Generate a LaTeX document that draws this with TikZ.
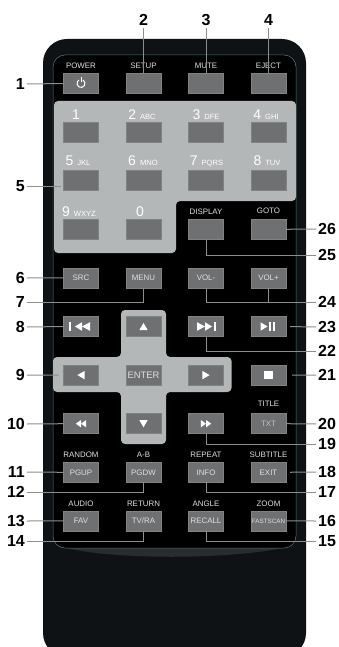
\documentclass[tikz,border=0pt]{standalone}
\usepackage{fontspec}
\setmainfont{Liberation Sans}
\usetikzlibrary{positioning,calc}
\definecolor{bodyblack}{RGB}{14,18,20}
\definecolor{rimgreen}{RGB}{88,118,116}
\definecolor{lipgray}{RGB}{42,45,47}
\definecolor{panelgray}{RGB}{180,183,183}
\definecolor{keygray}{RGB}{110,112,114}
\definecolor{keyedge}{RGB}{128,130,131}
\definecolor{keyword}{RGB}{222,224,224}
\definecolor{leadgray}{RGB}{140,142,142}
\newcommand{\fsize}[1]{\fontsize{#1}{#1}\selectfont}
\newcommand{\keycap}[2]{{\fsize{14}#1}\hspace{4pt}{\fsize{7.6}#2}}
\tikzset{
  keybtn/.style={draw=keyedge,line width=.5pt,fill=keygray,minimum width=35pt,minimum height=20pt,inner sep=0pt,outer sep=0pt,text=keyword,font=\fsize{7.9}},
  keyname/.style={text=keyword,inner sep=0pt,font=\fsize{7.9},text height=5.7pt,text depth=0pt},
  keydigit/.style={text=white,inner sep=0pt,text depth=0pt},
  leftnum/.style={anchor=east,inner sep=2pt,font=\fsize{16}\bfseries,text height=11.5pt,text depth=0pt},
  rightnum/.style={anchor=west,inner sep=2pt,font=\fsize{16}\bfseries,text height=11.5pt,text depth=0pt},
  topnum/.style={inner sep=2pt,font=\fsize{16}\bfseries,text height=11.5pt,text depth=0pt},
  leader/.style={draw=leadgray,line width=1pt},
  tri/.pic={\fill[white] (-3.6,-4.2)--(3.6,0)--(-3.6,4.2)--cycle;},
  skiptri/.pic={\fill[white] (-6,0)--(1,-4.3)--(1,4.3)--cycle;
    \fill[white] (1,0)--(9,-4.3)--(9,4.3)--cycle;},
  rewind/.pic={\fill[white] (-5.2,0)--(0,-3.7)--(0,3.7)--cycle;
    \fill[white] (0,0)--(5.2,-3.7)--(5.2,3.7)--cycle;},
}

\begin{document}
\begin{tikzpicture}[x=1pt,y=-1pt,node distance=28.6pt and 27.5pt]
\useasboundingbox (0,0) rectangle (339,647);
% case and keypad plates
\begin{scope}
\clip (0,0) rectangle (339,647);
\fill[bodyblack,rounded corners=24pt] (43,657)--(43,39)--(306,39)--(306,657)--cycle;
\end{scope}
\fill[lipgray] (62,547) .. controls (110,560) and (230,560) .. (288,547)--cycle;
\draw[draw=rimgreen,fill=black,line width=.5pt,rounded corners=12pt] (53,55) rectangle (296,548);
\fill[panelgray,rounded corners=4pt] (54,101)--(296,101)--(296,201)--(176,201)--(176,253)--(54,253)--cycle;
\fill[panelgray,rounded corners=4pt] (121,310)--(166,310)--(166,357)--(231.5,357)--(231.5,392)--(166,392)--(166,444)--(121,444)--(121,392)--(53,392)--(53,357)--(121,357)--cycle;
% first column
\node[keybtn] (power) at (81,83.5) {};
\node[keybtn,below=of power] (key1) {};
\node[keybtn,below=of key1] (key5) {};
\node[keybtn,below=of key5] (key9) {};
\node[keybtn,below=of key9] (src) {SRC};
\node[keybtn,below=of src] (skipprev) {};
\node[keybtn,below=of skipprev] (left) {};
\node[keybtn,below=of left] (rew) {};
\node[keybtn,below=of rew] (pgup) {PGUP};
\node[keybtn,below=of pgup] (fav) {FAV};
% second column
\node[keybtn,right=of power] (setup) {};
\node[keybtn,right=of key1] (key2) {};
\node[keybtn,right=of key5] (key6) {};
\node[keybtn,right=of key9] (key0) {};
\node[keybtn,right=of src] (menu) {MENU};
\node[keybtn,right=of skipprev] (up) {};
\node[keybtn,right=of left,font=\fsize{9.4}] (enter) {ENTER};
\node[keybtn,right=of rew] (down) {};
\node[keybtn,right=of pgup] (pgdw) {PGDW};
\node[keybtn,right=of fav] (tvra) {TV/RA};
% third column
\node[keybtn,right=of setup] (mute) {};
\node[keybtn,right=of key2] (key3) {};
\node[keybtn,right=of key6] (key7) {};
\node[keybtn,right=of key0] (display) {};
\node[keybtn,right=of menu] (volm) {VOL-};
\node[keybtn,right=of up] (skipnext) {};
\node[keybtn,right=of enter] (right) {};
\node[keybtn,right=of down] (ffwd) {};
\node[keybtn,right=of pgdw] (info) {INFO};
\node[keybtn,right=of tvra] (recall) {RECALL};
% fourth column
\node[keybtn,right=of mute] (eject) {};
\node[keybtn,right=of key3] (key4) {};
\node[keybtn,right=of key7] (key8) {};
\node[keybtn,right=of display] (goto) {};
\node[keybtn,right=of volm] (volp) {VOL+};
\node[keybtn,right=of skipnext] (playkey) {};
\node[keybtn,right=of right] (stopkey) {};
\node[keybtn,right=of ffwd,text=keyword!75!keygray] (txt) {TXT};
\node[keybtn,right=of info] (exit) {EXIT};
\node[keybtn,right=of recall,font=\fsize{6.3}] (fast) {FASTSCAN};
% names over the keys
\foreach \k/\t/\g in {power/POWER/5pt,setup/SETUP/5pt,mute/MUTE/5pt,eject/EJECT/5pt,display/DISPLAY/5pt,goto/GOTO/5.5pt,txt/TITLE/7pt,pgup/RANDOM/5pt,pgdw/A-B/5pt,info/REPEAT/5pt,exit/SUBTITLE/5pt,fav/AUDIO/4pt,tvra/RETURN/4pt,recall/ANGLE/4pt,fast/ZOOM/4pt}{
  \node[keyname,above=\g of \k] (name\k) {\t};
}
\foreach \k/\d/\t/\s/\g in {key2/2/ABC/-1.5pt/2pt,key3/3/DFE/0pt/2pt,key4/4/GHI/-2.5pt/2pt,key5/5/JKL/-3pt/5pt,key6/6/MNO/-.5pt/5pt,key7/7/PQRS/.5pt/5pt,key8/8/TUV/-1.5pt/5pt,key9/9/WXYZ/-2pt/3pt}{
  \node[keydigit,above=\g of \k,xshift=\s] (cap\k) {\keycap{\d}{\t}};
}
\node[keydigit,above=2pt of key1,xshift=-5pt,font=\fsize{14}] (capkey1) {1};
\node[keydigit,above=3pt of key0,xshift=-3.5pt,font=\fsize{14}] (capkey0) {0};
% icons
\draw[white,line width=1pt] ([shift={(2,-3.5)}]power.center) arc[start angle=-60,end angle=240,radius=4];
\draw[white,line width=1pt] ([shift={(0,-6)}]power.center)--([shift={(0,-1)}]power.center);
\pic at (skipprev) {skiptri};
\fill[white] ([shift={(-12,-4.3)}]skipprev.center) rectangle ([shift={(-10.2,4.3)}]skipprev.center);
\pic[xscale=-1] at (skipnext) {skiptri};
\fill[white] ([shift={(7.6,-4.3)}]skipnext.center) rectangle ([shift={(9.6,4.3)}]skipnext.center);
\pic at (rew) {rewind};
\pic[xscale=-1] at (ffwd) {rewind};
\pic[rotate=90] at (up) {tri};
\pic[rotate=-90] at (down) {tri};
\pic[rotate=180] at (left) {tri};
\pic at (right) {tri};
\fill[white] ([shift={(-8,-4.2)}]playkey.center)--([shift={(-1,0)}]playkey.center)--([shift={(-8,4.2)}]playkey.center)--cycle;
\fill[white] ([shift={(.8,-4.2)}]playkey.center) rectangle ([shift={(2.5,4.2)}]playkey.center);
\fill[white] ([shift={(4.2,-4.2)}]playkey.center) rectangle ([shift={(6.2,4.2)}]playkey.center);
\fill[white] ([shift={(-4.3,-4.3)}]stopkey.center) rectangle ([shift={(4.3,4.3)}]stopkey.center);
% numbers round the case
\foreach \n/\y in {1/84,5/186,6/278,7/302,8/327,9/375,10/424,11/472,12/492,13/521,14/541}{
  \node[leftnum] (num\n) at (27,\y) {\n};
}
\foreach \n/\y in {26/229,25/255,24/302,23/327,22/351,21/375,20/424,19/444,18/472,17/492,16/521,15/541}{
  \node[rightnum] (num\n) at (316,\y) {\n};
}
\foreach \n/\k in {2/setup,3/mute,4/eject}{
  \node[topnum] (num\n) at (\k |- 0,20) {\n};
  \draw[leader] (num\n)--(\k.north);
}
% leaders
\foreach \n/\k in {1/power,6/src,8/skipprev,10/rew,11/pgup,13/fav}{\draw[leader] (num\n.east)--(\k.west);}
\foreach \n/\k in {26/goto,20/txt,16/fast}{\draw[leader] (num\n.west)--(\k.east);}
\foreach \n/\k in {23/playkey,18/exit}{\draw[leader,shorten >=4pt] (num\n.west)--(\k.east);}
\draw[leader,shorten >=6pt] (num21.west)--(stopkey.east);
\draw[leader,shorten >=5pt] (num9.east)--(left.west);
\draw[leader,shorten >=3pt] (num5.east)--(num5.east -| key5.west);
\foreach \n/\k in {7/menu,12/pgdw,14/tvra}{\draw[leader] (num\n.east)-|(\k.south);}
\foreach \n/\k in {25/display,22/skipnext,19/ffwd,17/info,15/recall}{\draw[leader] (num\n.west)-|(\k.south);}
\draw[leader] (num24.west)-|(volm.south);
\draw[leader] (num24.west)-|(volp.south);
\end{tikzpicture}
\end{document}
